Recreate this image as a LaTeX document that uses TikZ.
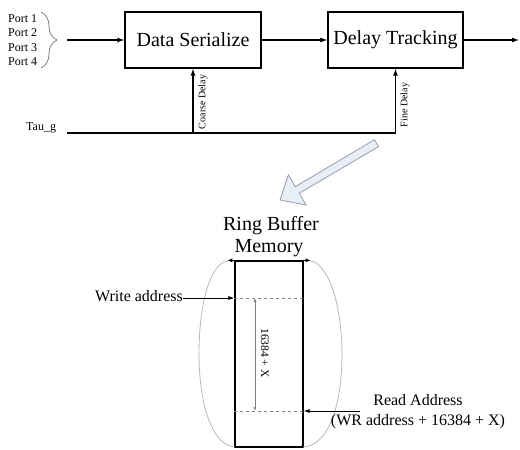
\documentclass[tikz,border=0pt]{standalone}
\usepackage{fontspec}
\setmainfont{Liberation Serif}
\usetikzlibrary{arrows.meta,calc,decorations.pathreplacing}

\definecolor{arcgray}{RGB}{185,185,185}
\definecolor{bigfill}{RGB}{232,238,247}
\definecolor{bigline}{RGB}{150,158,170}

\begin{document}
\begin{tikzpicture}[x=1pt,y=-1pt,
  blockbox/.style={draw,line width=1.2pt,minimum width=136pt,minimum height=56pt,
    inner sep=0pt,font=\fontsize{20}{22}\selectfont},
  sig/.style={line width=1.1pt,-{Latex[length=7pt,width=5pt]}},
  thinsig/.style={line width=0.7pt,-{Latex[length=6pt,width=4pt]}},
  portlbl/.style={inner sep=0pt,anchor=west,font=\fontsize{12}{14}\selectfont},
  sidelbl/.style={inner sep=0pt,rotate=90,font=\fontsize{10}{12}\selectfont},
  memlbl/.style={inner sep=0pt,font=\fontsize{16}{20}\selectfont},
]
\useasboundingbox (0,0) rectangle (520,450);

% ---------- processing chain ----------
\node[blockbox] (ds) at (193,40) {Data Serialize};
\node[blockbox,minimum width=135pt] (dt) at (395.5,40) {Delay Tracking};

\node[portlbl] (p1) at (8,19) {Port 1};
\node[portlbl] (p2) at (8,33) {Port 2};
\node[portlbl] (p3) at (8,48) {Port 3};
\node[portlbl] (p4) at (8,62) {Port 4};
\draw[gray,line width=0.8pt,decorate,decoration={brace,amplitude=16pt}] (41,12) -- (41,68);

\coordinate (in) at (67,40);
\coordinate (out) at (519,40);
\draw[sig] (in) -- (ds.west);
\draw[sig] (ds.east) -- (dt.west);
\draw[sig] (dt.east) -- (out);

% delay control from Tau_g
\node[portlbl] (tau) at (26,128) {Tau\_g};
\coordinate (t0) at (67,133);
\coordinate (t1) at (dt.south |- t0);
\draw[sig] (t0) -- (t1) -- (dt.south);
\draw[sig] (ds.south |- t0) -- (ds.south);
\node[sidelbl] (cd) at (203,102) {Coarse Delay};
\node[sidelbl] (fd) at (405,105) {Fine Delay};

% hollow block arrow pointing down to the memory
\draw[bigline,fill=bigfill,line width=0.8pt,line join=miter]
  (280,200) -- (306.1,205.0) -- (299.3,193.3) -- (378.5,146.6)
  -- (374.5,139.7) -- (295.2,186.7) -- (288.4,174.8) -- cycle;

% ---------- ring buffer ----------
\node[inner sep=0pt,anchor=base,font=\fontsize{20}{22}\selectfont] (rb1) at (271,230) {Ring Buffer};
\node[inner sep=0pt,anchor=base,font=\fontsize{20}{22}\selectfont] (rb2) at (269,252) {Memory};

\node[draw,line width=1.3pt,minimum width=68pt,minimum height=186pt,inner sep=0pt] (mem) at (269,354) {};

% wrap-around arcs
\draw[arcgray,line width=0.8pt] (228,261) .. controls (211,262) and (199,302) .. (199,354)
  .. controls (199,406) and (213,446) .. (235,447);
\draw[arcgray,line width=0.8pt] (310,261) .. controls (327,262) and (342,302) .. (342,354)
  .. controls (342,406) and (328,446) .. (303,447);
\draw[line width=0.8pt,-{Latex[length=5pt,width=4pt]}] (mem.north west) -- ++(-7,0);
\draw[line width=0.8pt,-{Latex[length=5pt,width=4pt]}] (mem.north east) -- ++(7,0);

% write / read pointers
\coordinate (wy) at (0,298);
\coordinate (ry) at (0,411);
\draw[gray,dashed,line width=0.7pt] (mem.west |- wy) -- (mem.east |- wy);
\draw[gray,dashed,line width=0.7pt] (mem.west |- ry) -- (mem.east |- ry);

\node[memlbl] (wa) at (139,296) {Write address};
\draw[thinsig] (wa.east |- wy) -- (mem.west |- wy);

\node[memlbl,align=center] (ra) at (418,412) {Read Address\\(WR address + 16384 + X)};
\coordinate (rs) at (360,411);
\draw[thinsig] (rs) -- (mem.east |- ry);

% span between the pointers
\coordinate (s0) at (255,298);
\coordinate (s1) at (255,411);
\draw[gray,line width=0.7pt,{Latex[length=4pt,width=3pt]}-{Latex[length=4pt,width=3pt]}] (s0) -- (s1);
\node[inner sep=0pt,rotate=-90,font=\fontsize{11.5}{13}\selectfont] (span) at (265,353) {16384 + X};
\end{tikzpicture}
\end{document}
